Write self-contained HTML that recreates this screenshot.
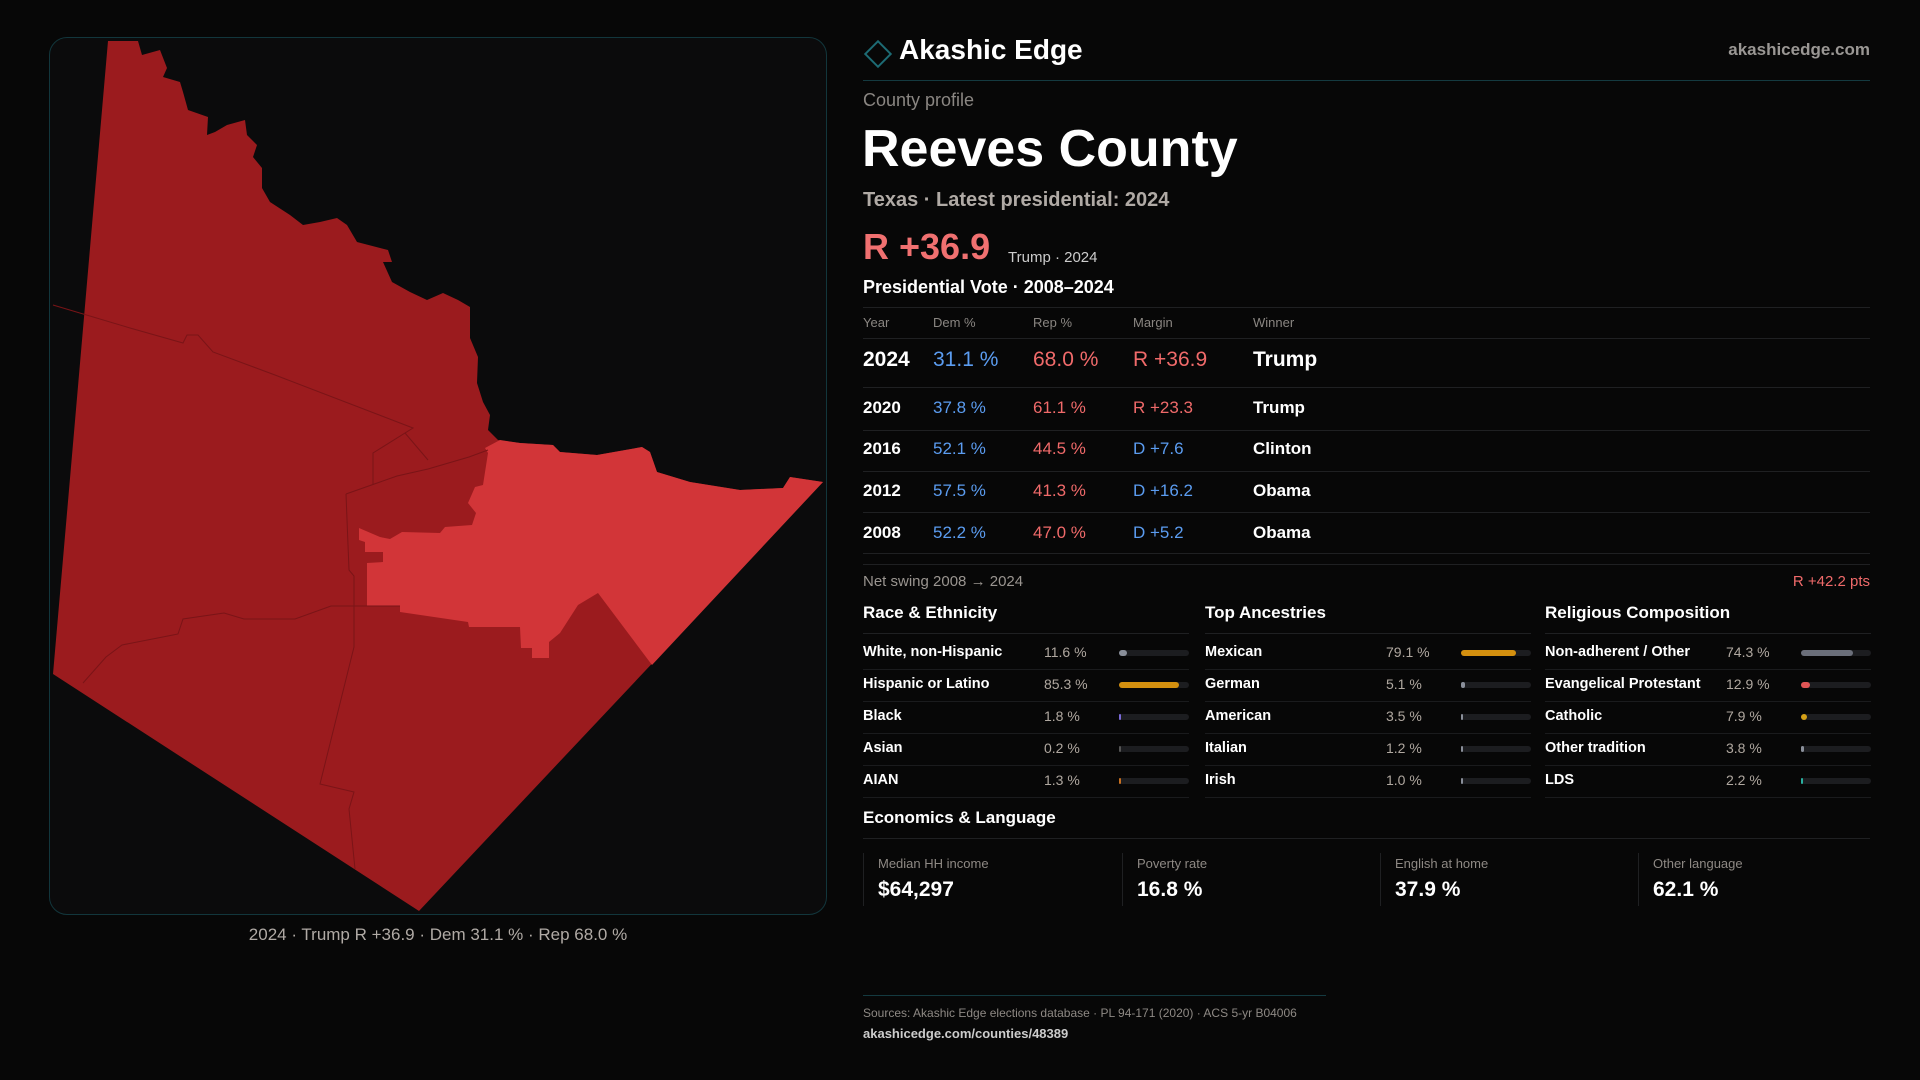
<!DOCTYPE html>
<html><head><meta charset="utf-8">
<style>
*{margin:0;padding:0;box-sizing:border-box}
body{width:1920px;height:1080px;background:#070707;font-family:"Liberation Sans",sans-serif;color:#fff;position:relative;overflow:hidden}
.a{position:absolute;white-space:nowrap}
.hl{position:absolute;height:1px;background:#1f2022}
.b{font-weight:bold}
</style></head><body>
<div class="a" style="left:49px;top:37px;width:778px;height:878px;border:1px solid #12363c;border-radius:18px;background:#0b0b0c"></div>
<svg class="a" style="left:0;top:0" width="1920" height="1080" viewBox="0 0 1920 1080">
<path fill="#9b1b1e" d="M108,41 L138,41 L142,55 L160,50 L167,68 L163,77 L180,82 L183,92 L188,110 L208,117 L207,135 L215,132 L227,125 L245,120 L247,135 L257,145 L253,157 L262,168 L262,188 L270,202 L290,215 L303,225 L320,222 L337,218 L347,225 L357,242 L388,250 L392,262 L383,262 L392,282 L410,292 L427,300 L443,293 L458,300 L470,307 L470,338 L478,357 L477,383 L483,402 L490,415 L488,430 L498,440 L520,443 L553,445 L560,452 L597,455 L642,447 L650,452 L657,472 L690,482 L740,490 L783,488 L790,477 L823,482 L419,911 L53,674 Z"/>
<path fill="#d23538" d="M485,448 L500,440 L520,443 L553,445 L560,452 L597,455 L642,447 L650,452 L657,472 L690,482 L740,490 L783,488 L790,477 L823,482 L652,665 L598,593 L578,605 L560,633 L549,642 L549,658 L532,658 L532,648 L521,648 L520,627 L469,627 L468,622 L400,612 L400,606 L367,606 L367,563 L383,562 L383,552 L365,552 L365,542 L359,540 L359,528 L380,537 L390,539 L402,532 L440,533 L445,527 L472,525 L476,513 L468,503 L475,487 L483,485 L488,453 Z"/>
<g fill="none" stroke="#7a1417" stroke-width="1">
<path d="M53,305 L130,328 L183,343 L187,335 L198,335 L213,352 L275,375 L413,428 L373,453 L373,485"/>
<path d="M405,433 L428,460"/>
<path d="M346,494 L397,476 L428,469 L469,457 L488,450"/>
<path d="M346,494 L349,570 L354,576 L354,647 L320,784 L354,792 L349,809 L355,869"/>
<path d="M83,683 L106,657 L122,645 L178,634 L183,619 L224,613 L244,619 L295,619 L331,606 L400,606"/>
</g></svg>
<div class="a" style="left:49px;width:778px;top:925px;text-align:center;font-size:17px;color:#b0aaa5">2024 · Trump R +36.9 · Dem 31.1 % · Rep 68.0 %</div>

<div class="a" style="left:868px;top:44px;width:20px;height:20px;border:2px solid #1d6b74;transform:rotate(45deg)"></div>
<div class="a b" style="left:899px;top:34px;font-size:28px">Akashic Edge</div>
<div class="a b" style="right:50px;top:40px;font-size:17px;color:#9a9794">akashicedge.com</div>
<div class="hl" style="left:863px;width:1007px;top:80px;background:#143a40"></div>
<div class="a" style="left:863px;top:90px;font-size:18px;color:#8a8682">County profile</div>
<div class="a b" style="left:862px;top:119px;font-size:52px">Reeves County</div>
<div class="a b" style="left:863px;top:189px;font-size:20px;color:#b0aaa5">Texas · Latest presidential: 2024</div>
<div class="a b" style="left:863px;top:226px;font-size:36px;color:#f07070">R +36.9</div>
<div class="a" style="left:1008px;top:249px;font-size:15px;color:#ccc">Trump · 2024</div>
<div class="a b" style="left:863px;top:277px;font-size:18px">Presidential Vote · 2008–2024</div>
<div class="hl" style="left:863px;width:1007px;top:307px"></div>
<div class="hl" style="left:863px;width:1007px;top:564px"></div>
<div class="a" style="left:863px;top:573px;font-size:15px;color:#9a9590">Net swing 2008 → 2024</div>
<div class="a" style="right:50px;top:573px;font-size:15px;color:#f06a6a">R +42.2 pts</div>
<div class="a b" style="left:863px;top:808px;font-size:17px">Economics &amp; Language</div>
<div class="hl" style="left:863px;width:1007px;top:838px"></div>
<div class="hl" style="left:863px;width:463px;top:995px;background:#143a40"></div>
<div class="a" style="left:863px;top:1006px;font-size:12px;color:#8e8984">Sources: Akashic Edge elections database · PL 94-171 (2020) · ACS 5-yr B04006</div>
<div class="a b" style="left:863px;top:1026px;font-size:13px;color:#ccc">akashicedge.com/counties/48389</div>
<script>
const years=["2024","2020","2016","2012","2008"];
const demPct=[31.1,37.8,52.1,57.5,52.2];
const repPct=[68.0,61.1,44.5,41.3,47.0];
const winners=["Trump","Trump","Clinton","Obama","Obama"];
const raceLabels=["White, non-Hispanic","Hispanic or Latino","Black","Asian","AIAN"];
const raceVals=[11.6,85.3,1.8,0.2,1.3];
const raceColors=["#8a8f9a","#d4900f","#7a6ad8","#555","#c87020"];
const ancLabels=["Mexican","German","American","Italian","Irish"];
const ancVals=[79.1,5.1,3.5,1.2,1.0];
const ancColors=["#d4900f","#8a8f9a","#8a8f9a","#8a8f9a","#8a8f9a"];
const relLabels=["Non-adherent / Other","Evangelical Protestant","Catholic","Other tradition","LDS"];
const relVals=[74.3,12.9,7.9,3.8,2.2];
const relColors=["#6b6f7a","#e05555","#d4a017","#8a8f9a","#2ab0a0"];
const econLabels=["Median HH income","Poverty rate","English at home","Other language"];
const econVals=["$64,297","16.8 %","37.9 %","62.1 %"];

function add(parent,html,style,name){const d=document.createElement('div');d.className='a';d.innerHTML=html;d.style.cssText=style;


parent.appendChild(d);return d;}
const body=document.body;
const cols=[863,933,1033,1133,1253];
["Year","Dem %","Rep %","Margin","Winner"].forEach((h,i)=>add(body,h,`left:${cols[i]}px;top:315px;font-size:13px;color:#8a8682`,'table-header-cell'));
add(body,'','left:863px;width:1007px;top:338px;height:1px;background:#1f2022','table-header-line');
const rowY=[361,408,449,491,533], lineY=[387,430,471,512,553];
years.forEach((y,i)=>{
 const fs=i===0?21:17, t=rowY[i]-fs*0.6;
 const m=repPct[i]-demPct[i];
 const mt=(m>0?'R +':'D +')+Math.abs(m).toFixed(1);
 add(body,y,`left:${cols[0]}px;top:${t}px;font-size:${fs}px;font-weight:bold`,'row-year');
 add(body,demPct[i].toFixed(1)+' %',`left:${cols[1]}px;top:${t}px;font-size:${fs}px;color:#5b9cf0`,'row-dem');
 add(body,repPct[i].toFixed(1)+' %',`left:${cols[2]}px;top:${t}px;font-size:${fs}px;color:#f06a6a`,'row-rep');
 add(body,mt,`left:${cols[3]}px;top:${t}px;font-size:${fs}px;color:${m>0?'#f06a6a':'#5b9cf0'}`,'row-margin');
 add(body,winners[i],`left:${cols[4]}px;top:${t}px;font-size:${fs}px;font-weight:bold`,'row-winner');
 add(body,'',`left:863px;width:1007px;top:${lineY[i]}px;height:1px;background:#1f2022`,'row-line');
});
const groups=[["Race & Ethnicity",raceLabels,raceVals,raceColors,863,'race'],["Top Ancestries",ancLabels,ancVals,ancColors,1205,'ancestry'],["Religious Composition",relLabels,relVals,relColors,1545,'religion']];
groups.forEach(g=>{
 const x=g[4];
 add(body,g[0],`left:${x}px;top:603px;font-size:17px;font-weight:bold`,g[5]+'-title');
 add(body,'',`left:${x}px;width:326px;top:633px;height:1px;background:#1f2022`,g[5]+'-title-line');
 g[1].forEach((lab,i)=>{
  const cy=653+i*32;
  add(body,lab,`left:${x}px;top:${cy-9}px;font-size:14.5px;font-weight:bold`,g[5]+'-label');
  add(body,g[2][i].toFixed(1)+' %',`left:${x+181}px;top:${cy-9}px;font-size:14px;color:#b0a8a0`,g[5]+'-value');
  add(body,'',`left:${x+256}px;top:${cy-3}px;width:70px;height:6px;border-radius:3px;background:#1c1d20`,g[5]+'-bar-track');
  const w=Math.max(2,70*g[2][i]/100);
  add(body,'',`left:${x+256}px;top:${cy-3}px;width:${w}px;height:6px;border-radius:3px;background:${g[3][i]}`,g[5]+'-bar');
  add(body,'',`left:${x}px;width:326px;top:${cy+16}px;height:1px;background:#1a1b1d`,g[5]+'-row-line');
 });
});
const ex=[863,1122,1380,1638];
econLabels.forEach((l,i)=>{
 add(body,'',`left:${ex[i]}px;top:853px;width:1px;height:53px;background:#1f2022`,'econ-divider');
 add(body,l,`left:${ex[i]+15}px;top:856px;font-size:13px;color:#8e8984`,'econ-label');
 add(body,econVals[i],`left:${ex[i]+15}px;top:878px;font-size:21px;font-weight:bold`,'econ-value');
});
</script>
</body></html>
